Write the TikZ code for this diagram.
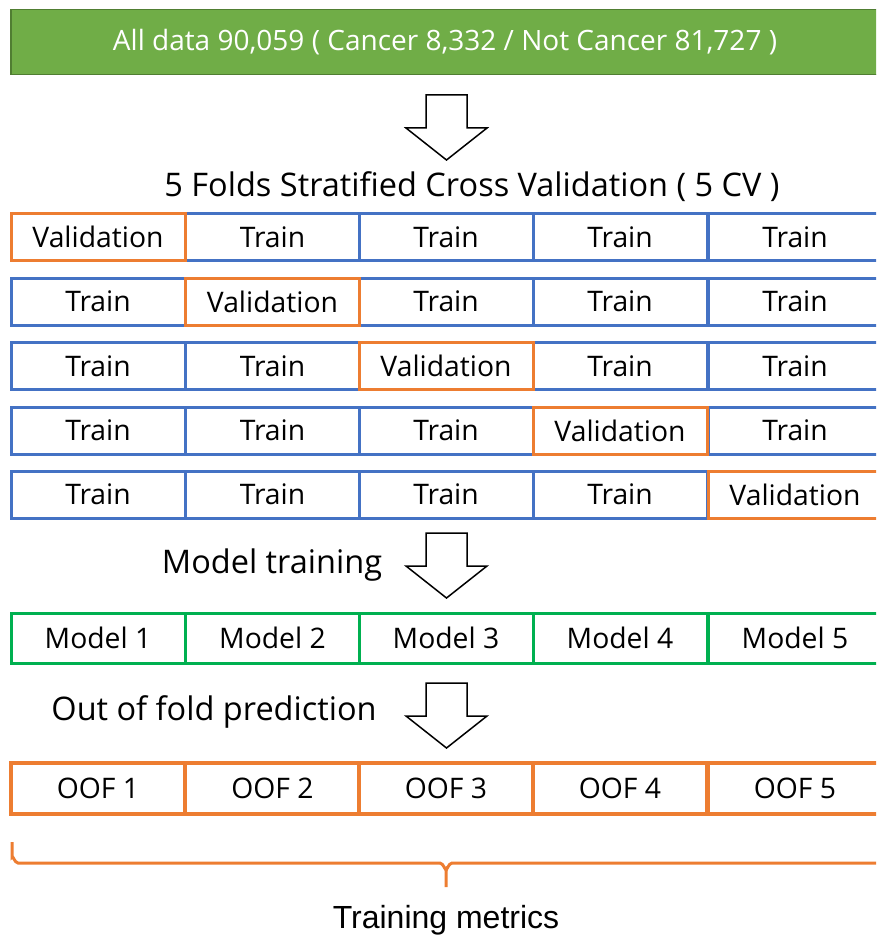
\documentclass[tikz,border=0pt]{standalone}
\usepackage{fontspec}
\setmainfont{Open Sans}
\newfontfamily\arialfont{Liberation Sans}
\definecolor{cblue}{HTML}{4472C4}
\definecolor{corange}{HTML}{ED7D31}
\definecolor{cgreen}{HTML}{00B050}
\definecolor{barfill}{HTML}{70AD47}
\definecolor{barline}{HTML}{507E32}
\begin{document}
\begin{tikzpicture}[x=1pt,y=-1pt,
  cell/.style={draw, line width=3pt, minimum width=174pt, minimum height=47pt, inner sep=0pt, font=\fontsize{28.3}{30}\selectfont, text=black},
  traincell/.style={cell, draw=cblue},
  valcell/.style={cell, draw=corange},
  modelcell/.style={cell, draw=cgreen, minimum height=50pt},
  oofcell/.style={cell, draw=corange, line width=3.5pt, minimum height=51pt},
  heading/.style={font=\fontsize{32.5}{35}\selectfont, inner sep=0pt},
  hollow/.style={draw=black, line width=1.5pt, fill=white, line join=miter}
]
\useasboundingbox (0,0) rectangle (876,939);
\clip (0,0) rectangle (876,939);

% top bar
\node[draw=barline, fill=barfill, line width=1.5pt, minimum width=880pt, minimum height=65pt, anchor=north west, inner sep=0pt] (top) at (10,9) {};
\node[text=white, font=\fontsize{28}{30}\selectfont, inner sep=0pt] (toptext) at (445,42) {All data 90,059 ( Cancer 8,332 / Not Cancer 81,727 )};

% arrow 1
\path[hollow] (426,95) -- (467,95) -- (467,128) -- (487,128) -- (446.5,160) -- (406,128) -- (426,128) -- cycle;

\node[heading] (cvhead) at (472,187) {5 Folds Stratified Cross Validation ( 5 CV )};

% grid rows
\foreach \r/\y in {1/237,2/301.5,3/366,4/430.5,5/494.5}{
  \foreach \c/\x in {1/98,2/272.5,3/446,4/620,5/795}{
    \ifnum\r=\c\relax\else
      \node[traincell] (r\r c\c) at (\x,\y) {Train};
    \fi
  }
}
\foreach \r/\y/\x in {1/237/98,2/301.5/272.5,3/366/446,4/430.5/620,5/494.5/795}{
  \node[valcell] (r\r c\r) at (\x,\y) {Validation};
}

% model training
\node[heading] (mtlabel) at (272,565) {Model training};
\path[hollow] (426,533) -- (467,533) -- (467,566) -- (487,566) -- (446.5,598) -- (406,566) -- (426,566) -- cycle;

\foreach \c/\x in {1/98,2/272.5,3/446,4/620,5/795}{
  \node[modelcell] (m\c) at (\x,638) {Model \c};
}

% out of fold
\node[heading] (ooflabel) at (214,712) {Out of fold prediction};
\path[hollow] (426,683) -- (467,683) -- (467,716) -- (487,716) -- (446.5,748) -- (406,716) -- (426,716) -- cycle;

\foreach \c/\x in {1/98,2/272.5,3/446,4/620,5/795}{
  \node[oofcell] (o\c) at (\x,788.5) {OOF \c};
}

% brace
\draw[corange, line width=3pt] (12,842) -- (12,857) to[out=90,in=180] (18,863) -- (440,863) to[out=0,in=-90] (446,869) -- (446,887);
\draw[corange, line width=3pt] (446,869) to[out=-90,in=180] (452,863) -- (890,863);

\node[font=\arialfont\fontsize{32}{34}\selectfont, inner sep=0pt] (metrics) at (446,920) {Training metrics};
\end{tikzpicture}
\end{document}
